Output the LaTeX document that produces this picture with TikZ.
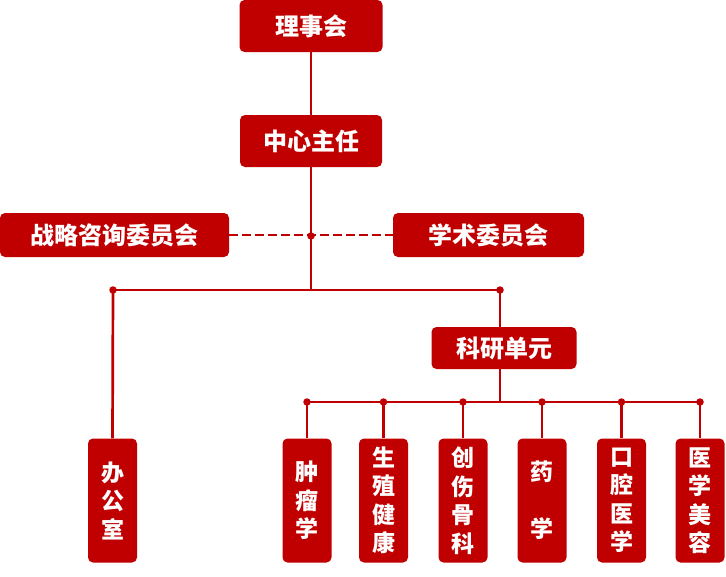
\documentclass[tikz,border=0pt]{standalone}
\usepackage{fontspec}
\newfontfamily\cjk{Noto Sans CJK SC}
\definecolor{hred}{HTML}{C00000}
\tikzset{
  box/.style={fill=hred,rounded corners=5pt,text=white,inner sep=0pt,
    font=\cjk\bfseries\fontsize{24}{28}\selectfont},
  tall/.style={box,minimum width=49pt,minimum height=124pt,align=center,
    font=\cjk\bfseries\fontsize{23}{28.5}\selectfont},
  link/.style={draw=hred,line width=2.7pt},
  dot/.style={circle,fill=hred,inner sep=0pt,minimum size=7.5pt},
}
\begin{document}
\begin{tikzpicture}[x=1pt,y=-1pt]
\useasboundingbox (0,0) rectangle (726,576);
% top levels
\node[box,minimum width=143pt,minimum height=52pt] (board) at (311,26) {理事会};
\node[box,minimum width=142pt,minimum height=52pt] (head) at (311,141) {中心主任};
\node[box,minimum width=229pt,minimum height=44pt] (strat) at (114.5,235) {战略咨询委员会};
\node[box,minimum width=191pt,minimum height=44pt] (acad) at (488.5,235) {学术委员会};
\node[box,minimum width=145pt,minimum height=42pt] (unit) at (504,348) {科研单元};
\node[tall] (office) at (112.5,500.5) {办\\公\\室};
\coordinate (mid) at (311,236);
\coordinate (fork) at (311,290);
\coordinate (forkL) at (113,290);
\coordinate (forkR) at (500,290);
\coordinate (bus) at (500,402);
\draw[link] (board) -- (head);
\draw[link] (head.south) -- (fork);
\draw[link,dash pattern=on 9pt off 4pt] (strat) -- (acad);
\draw[link] (forkL) -- (forkR);
\draw[link] (forkL) -- (office.north);
\draw[link] (forkR) -- (forkR |- unit.north);
\draw[link] (forkR |- unit.south) -- (bus);
% research units
\foreach \n/\x/\t in {u1/307/{肿\\瘤\\学},u2/383.5/{生\\殖\\健\\康},u3/463/{创\\伤\\骨\\科},
    u4/542/{药\\~\\学},u5/621.5/{口\\腔\\医\\学},u6/700/{医\\学\\美\\容}}{
  \node[tall] (\n) at (\x,500.5) {\t};
  \draw[link] (\n |- bus) -- (\n.north);
  \node[dot] at (\n |- bus) {};
}
\draw[link] (u1 |- bus) -- (u6 |- bus);
\foreach \c in {mid,forkL,forkR}
  \node[dot] at (\c) {};
\end{tikzpicture}
\end{document}
